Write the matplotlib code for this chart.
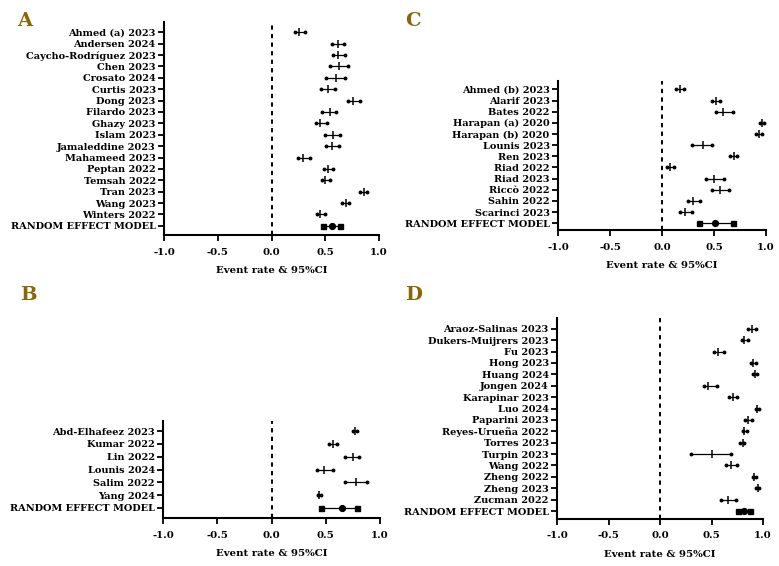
import matplotlib
matplotlib.use('Agg')
import matplotlib.pyplot as plt

FONT = 'DejaVu Serif'
LETTER_COLOR = '#8B6508'

# ---------------- Panel A ----------------
studies_A = ["Ahmed (a) 2023", "Andersen 2024", "Caycho-Rodríguez 2023", "Chen 2023",
             "Crosato 2024", "Curtis 2023", "Dong 2023", "Filardo 2023", "Ghazy 2023",
             "Islam 2023", "Jamaleddine 2023", "Mahameed 2023", "Peptan 2022",
             "Temsah 2022", "Tran 2023", "Wang 2023", "Winters 2022", "RANDOM EFFECT MODEL"]
est_A = [0.26, 0.62, 0.62, 0.63, 0.60, 0.53, 0.76, 0.54, 0.45, 0.57, 0.56, 0.29, 0.53,
         0.50, 0.86, 0.69, 0.45, 0.56]
lo_A = [0.22, 0.56, 0.57, 0.54, 0.51, 0.46, 0.71, 0.47, 0.41, 0.50, 0.51, 0.25, 0.49,
        0.47, 0.82, 0.66, 0.42, 0.48]
hi_A = [0.31, 0.67, 0.68, 0.71, 0.68, 0.59, 0.82, 0.60, 0.52, 0.64, 0.63, 0.36, 0.57,
        0.54, 0.89, 0.72, 0.50, 0.64]

# ---------------- Panel B ----------------
studies_B = ["Abd-Elhafeez 2023", "Kumar 2022", "Lin 2022", "Lounis 2024", "Salim 2022",
             "Yang 2024", "RANDOM EFFECT MODEL"]
est_B = [0.77, 0.57, 0.75, 0.48, 0.78, 0.44, 0.65]
lo_B = [0.75, 0.53, 0.68, 0.42, 0.68, 0.43, 0.46]
hi_B = [0.79, 0.60, 0.81, 0.57, 0.88, 0.46, 0.79]

# ---------------- Panel C ----------------
studies_C = ["Ahmed (b) 2023", "Alarif 2023", "Bates 2022", "Harapan (a) 2020",
             "Harapan (b) 2020", "Lounis 2023", "Ren 2023", "Riad 2022", "Riad 2023",
             "Riccò 2022", "Sahin 2022", "Scarinci 2023", "RANDOM EFFECT MODEL"]
est_C = [0.17, 0.52, 0.59, 0.96, 0.93, 0.39, 0.69, 0.08, 0.50, 0.56, 0.30, 0.22, 0.51]
lo_C = [0.13, 0.48, 0.52, 0.94, 0.90, 0.29, 0.65, 0.05, 0.42, 0.48, 0.25, 0.17, 0.36]
hi_C = [0.21, 0.56, 0.68, 0.98, 0.96, 0.48, 0.72, 0.12, 0.60, 0.64, 0.37, 0.29, 0.68]

# ---------------- Panel D ----------------
studies_D = ["Araoz-Salinas 2023", "Dukers-Muijrers 2023", "Fu 2023", "Hong 2023",
             "Huang 2024", "Jongen 2024", "Karapinar 2023", "Luo 2024", "Paparini 2023",
             "Reyes-Urueña 2022", "Torres 2023", "Turpin 2023", "Wang 2022", "Zheng 2022",
             "Zheng 2023", "Zucman 2022", "RANDOM EFFECT MODEL"]
est_D = [0.89, 0.82, 0.56, 0.90, 0.92, 0.47, 0.71, 0.94, 0.85, 0.82, 0.81, 0.50, 0.69,
         0.91, 0.95, 0.66, 0.82]
lo_D = [0.85, 0.80, 0.52, 0.88, 0.90, 0.43, 0.67, 0.93, 0.83, 0.81, 0.78, 0.30, 0.64,
        0.90, 0.93, 0.59, 0.76]
hi_D = [0.93, 0.85, 0.62, 0.93, 0.94, 0.55, 0.75, 0.96, 0.89, 0.84, 0.82, 0.69, 0.75,
        0.93, 0.96, 0.74, 0.87]

x_ticks = [-1.0, -0.5, 0.0, 0.5, 1.0]
x_ticklabels = ["-1.0", "-0.5", "0.0", "0.5", "1.0"]
x_label = "Event rate & 95%CI"

W, H = 779, 566
fig = plt.figure(figsize=(W / 100, H / 100), dpi=100)


def px_rect(left, right, top, bottom):
    return [left / W, 1 - bottom / H, (right - left) / W, (bottom - top) / H]


def panel(rect, names, est, lo, hi, ylim):
    ax = fig.add_axes(rect)
    n = len(names)
    for i in range(n):
        ax.plot([lo[i], hi[i]], [i, i], color='black', lw=0.9, clip_on=False, zorder=3)
        if i == n - 1:
            ax.plot([lo[i], hi[i]], [i, i], 's', color='black', ms=3.6, clip_on=False, zorder=4)
            ax.plot([est[i]], [i], 'o', color='black', ms=4.2, clip_on=False, zorder=4)
        else:
            ax.plot([lo[i], hi[i]], [i, i], 'o', color='black', ms=1.8, clip_on=False, zorder=4)
            ax.plot([est[i]], [i], '|', color='black', ms=6, mew=1.1, clip_on=False, zorder=4)
    ax.axvline(0, color='black', ls=(0, (2.2, 2.2)), lw=1.4, zorder=2)
    ax.set_xlim(-1, 1)
    ax.set_ylim(*ylim)
    ax.set_yticks(range(n))
    ax.set_yticklabels(names, fontfamily=FONT, fontweight='bold', fontsize=7.0)
    ax.set_xticks(x_ticks)
    ax.set_xticklabels(x_ticklabels, fontfamily=FONT, fontweight='bold', fontsize=7.3)
    ax.set_xlabel(x_label, fontfamily=FONT, fontweight='bold', fontsize=7.3, labelpad=7)
    for s in ['top', 'right']:
        ax.spines[s].set_visible(False)
    for s in ['left', 'bottom']:
        ax.spines[s].set_linewidth(1.5)
    ax.tick_params(axis='both', width=1.3, length=4, pad=2)
    ax.tick_params(axis='x', pad=5)
    return ax


panel(px_rect(164, 379, 22, 235), studies_A, est_A, lo_A, hi_A, (17.8, -0.9))
panel(px_rect(163, 380, 421, 518), studies_B, est_B, lo_B, hi_B, (6.8, -0.8))
panel(px_rect(558, 766, 81, 230), studies_C, est_C, lo_C, hi_C, (12.6, -0.75))
panel(px_rect(557, 763, 318, 519), studies_D, est_D, lo_D, hi_D, (16.7, -0.95))

for letter, (lx, ly) in zip("ABCD", [(17, 12), (20, 286), (405, 12), (405, 286)]):
    fig.text(lx / W, 1 - ly / H, letter, ha='left', va='top', fontfamily=FONT,
             fontweight='bold', fontsize=14, color=LETTER_COLOR)

fig.savefig('out.png', dpi=100)
